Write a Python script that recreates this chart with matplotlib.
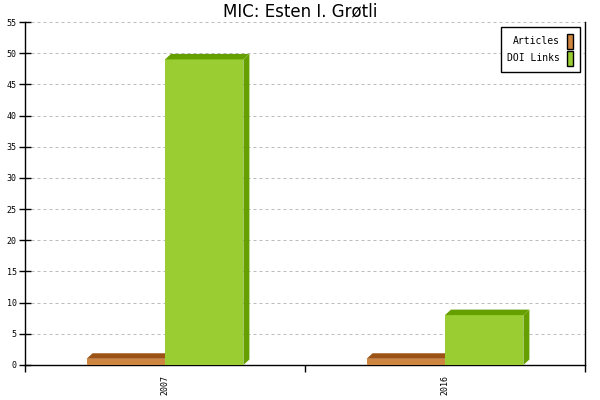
import matplotlib
matplotlib.use("Agg")
import matplotlib.pyplot as plt
from matplotlib.patches import Polygon, Patch

years = ['2007', '2016']
articles = [1, 1]
doi_links = [49, 8]

series = [
    ('Articles', articles, '#CD853F', '#9C5214'),
    ('DOI Links', doi_links, '#9ACD32', '#66A000'),
]

fig = plt.figure(figsize=(6, 4), dpi=100)
ax = fig.add_axes([25 / 600, 35 / 400, 560 / 600, 343 / 400])

ax.set_xlim(-0.5, len(years) - 0.5)
ax.set_ylim(0, 55)

# pixel size of the fake 3d depth turned into data units
dx = 6 * (len(years)) / 560
dy = 5.5 * 55 / 343
width = 0.28

for k, (name, vals, front, dark) in enumerate(series):
    for i, v in enumerate(vals):
        x0 = i - width + k * width
        x1 = x0 + width
        ax.bar(x0, v, width=width, align='edge', color=front, zorder=3 + k)
        top = Polygon([(x0, v), (x0 + dx, v + dy), (x1 + dx, v + dy), (x1, v)],
                      closed=True, facecolor=dark, edgecolor='none', zorder=3 + k)
        side = Polygon([(x1, 0), (x1 + dx, dy), (x1 + dx, v + dy), (x1, v)],
                       closed=True, facecolor=dark, edgecolor='none', zorder=3 + k)
        ax.add_patch(top)
        ax.add_patch(side)

mono = 'DejaVu Sans Mono'
ax.set_yticks(range(0, 56, 5))
ax.set_yticklabels([str(t) for t in range(0, 56, 5)], fontsize=6, family=mono)
ax.tick_params(axis='y', direction='inout', length=8, width=1, pad=2)

ax.set_xticks(range(len(years)))
ax.set_xticklabels(years, rotation=90, fontsize=6, family=mono)
ax.tick_params(axis='x', which='major', length=0, pad=7)
ax.set_xticks([i - 0.5 for i in range(len(years) + 1)], minor=True)
ax.tick_params(axis='x', which='minor', direction='out', length=5, width=1)

ax.spines['top'].set_visible(False)
for s in ['left', 'right', 'bottom']:
    ax.spines[s].set_linewidth(1)

ax.yaxis.grid(True, color='#bbbbbb', linewidth=0.72, linestyle=(0, (3, 3)), zorder=0)
ax.set_axisbelow(True)

handles = [Patch(facecolor=front, edgecolor='black', linewidth=1) for _, _, front, _ in series]
leg = ax.legend(handles, [s[0] for s in series], loc='upper right',
                prop={'family': mono, 'size': 7}, markerfirst=False,
                handlelength=0.62, handleheight=1.99, handletextpad=0.72,
                labelspacing=0.2, borderaxespad=0.5, borderpad=0.7,
                fancybox=False, framealpha=1, edgecolor='black')
leg.get_frame().set_linewidth(1)
for t in leg.get_texts():
    t.set_ha('right')

fig.text(0.5, 1 - 11 / 400, 'MIC: Esten I. Grøtli', ha='center', va='center', fontsize=12)

fig.savefig('out.png', dpi=100)
